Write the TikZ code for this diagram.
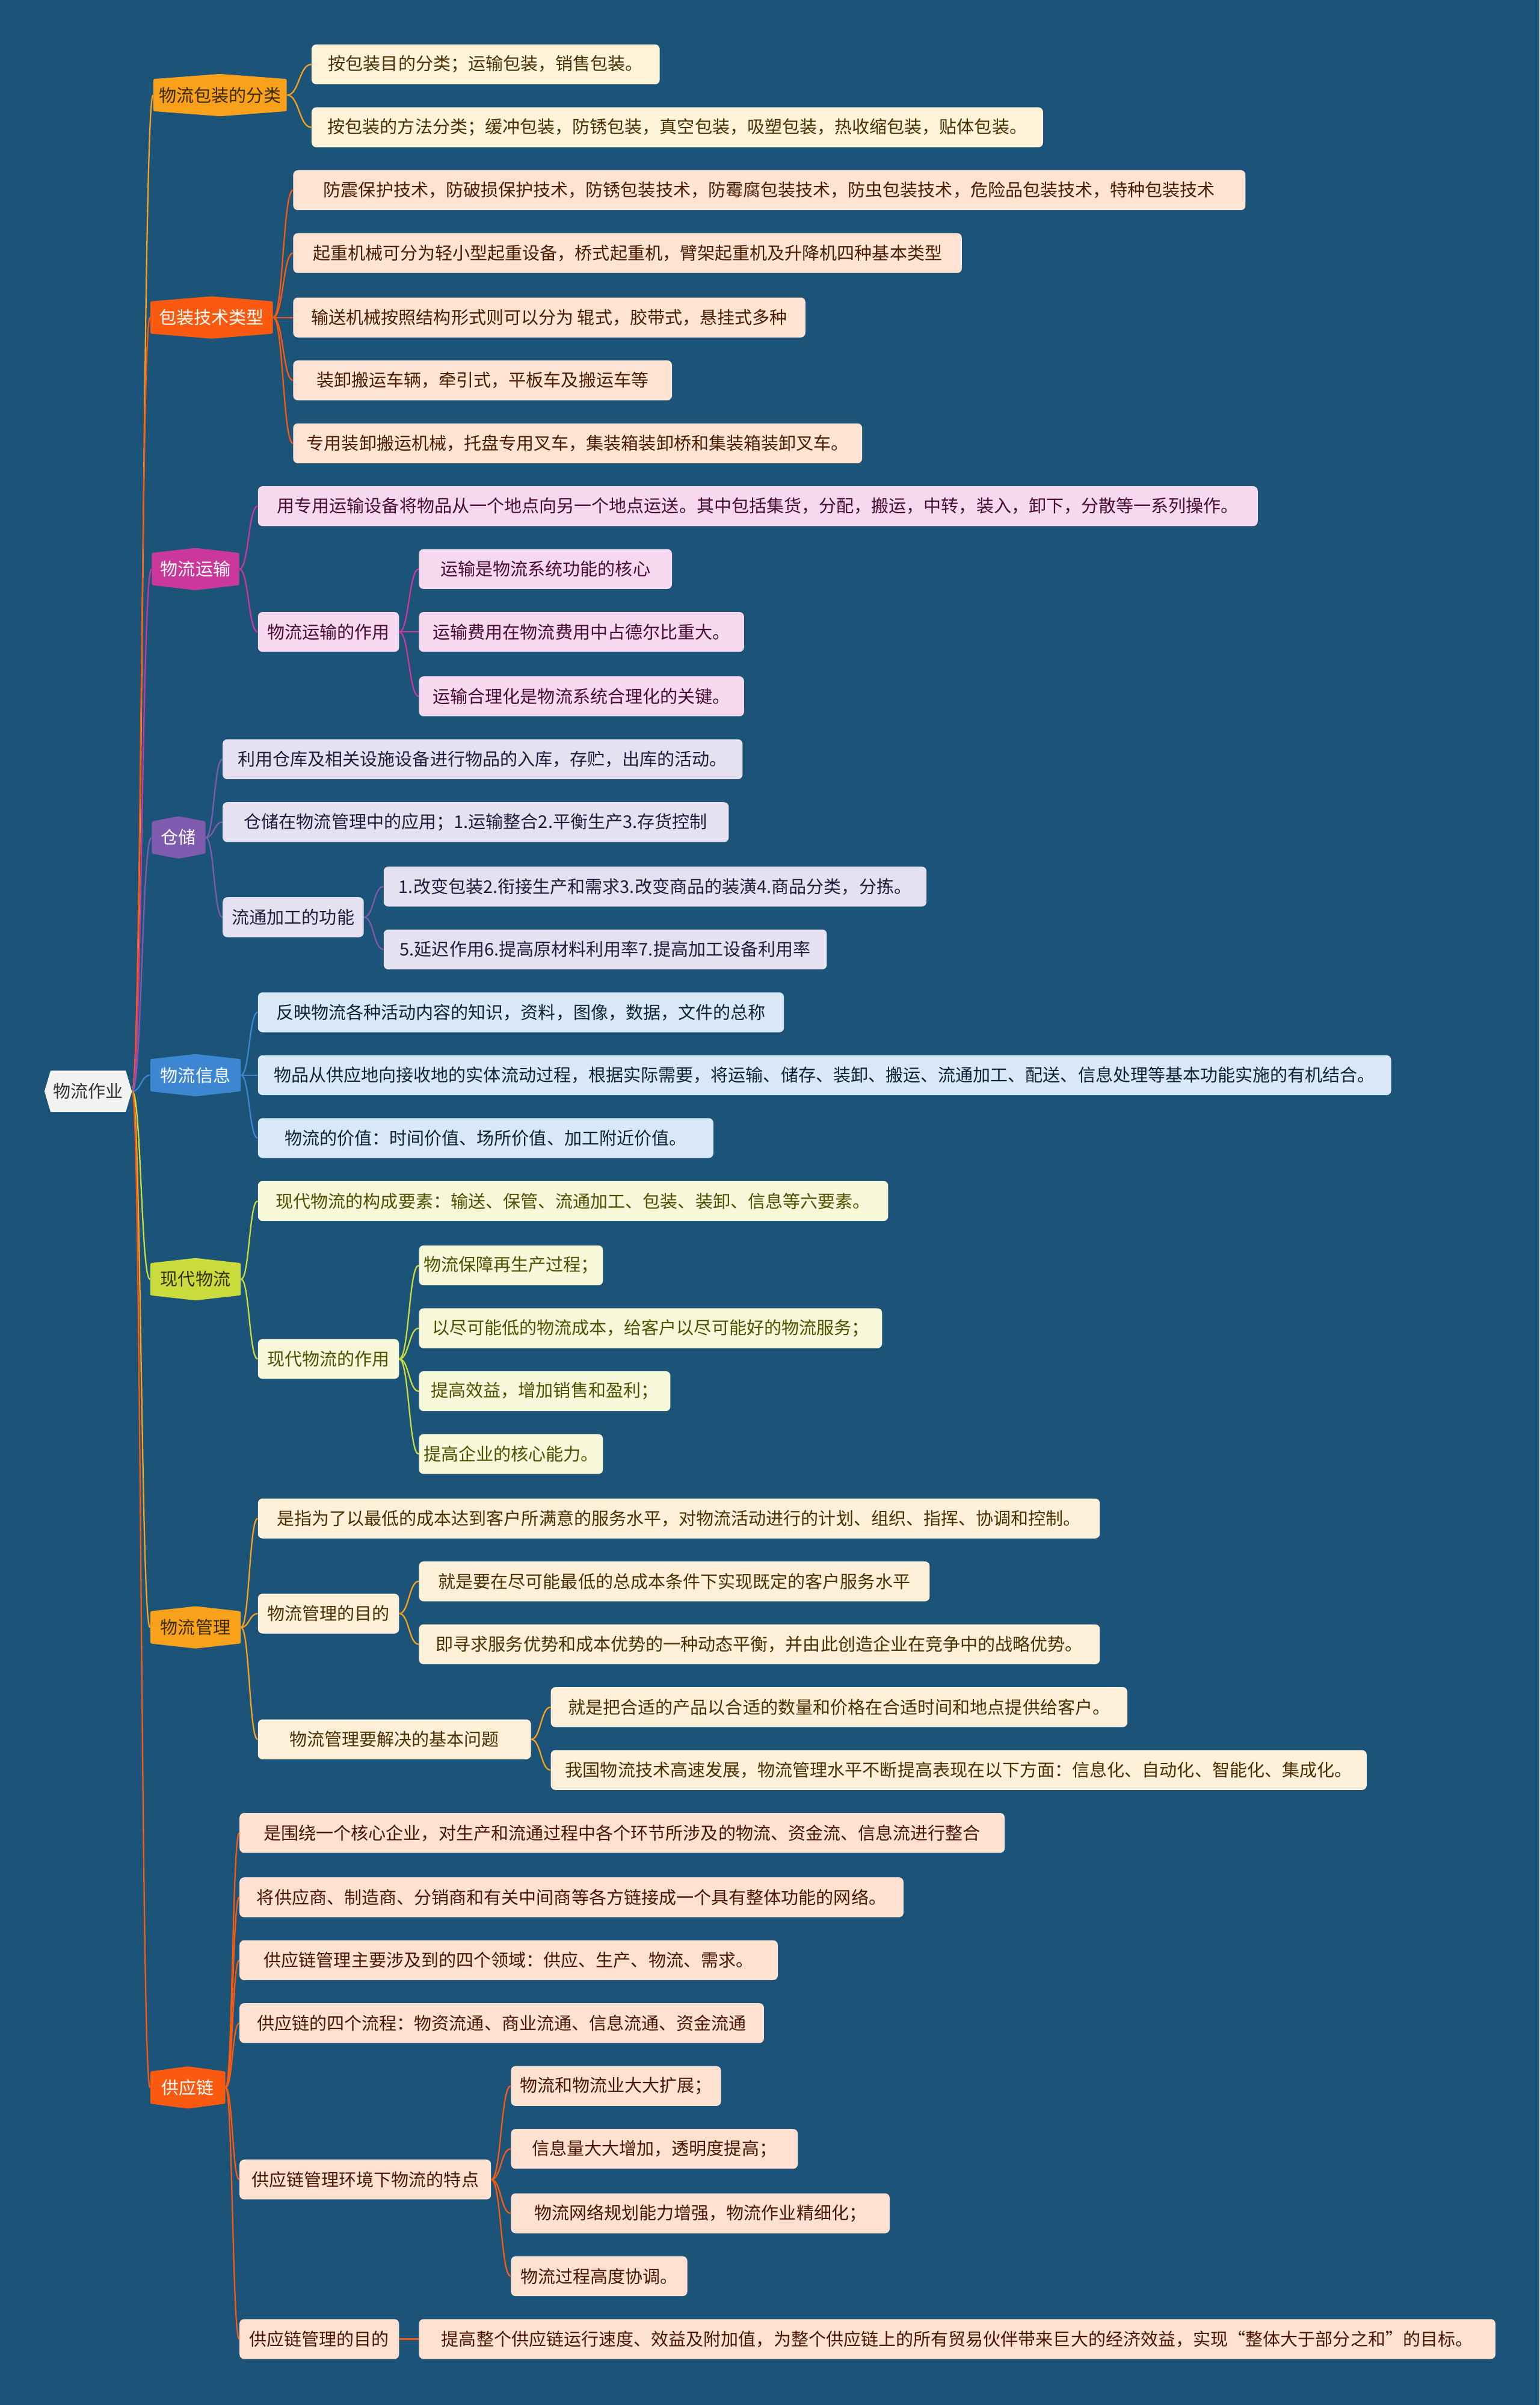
\documentclass[tikz,border=0pt]{standalone}
\usepackage{fontspec}
\newfontfamily\cjk{Noto Sans CJK SC}
\usetikzlibrary{calc}
\definecolor{bgc}{HTML}{1B5478}
\definecolor{rootc}{HTML}{F2F2F2}
\definecolor{cA}{HTML}{F9A11B}
\definecolor{cB}{HTML}{FA5A0F}
\definecolor{cC}{HTML}{C9389A}
\definecolor{cD}{HTML}{7E5BAE}
\definecolor{cE}{HTML}{3D86D1}
\definecolor{cF}{HTML}{CADB3C}
\definecolor{fA}{HTML}{FFF3DA}
\definecolor{fB}{HTML}{FFE3D3}
\definecolor{fC}{HTML}{F6D9EE}
\definecolor{fD}{HTML}{E6E1F1}
\definecolor{fE}{HTML}{D8E8F7}
\definecolor{fF}{HTML}{F7F8D9}
\definecolor{fG}{HTML}{FFF0D9}
\definecolor{fH}{HTML}{FFE1D2}
\definecolor{tA}{HTML}{4A2F00}
\definecolor{tB}{HTML}{4A1C00}
\definecolor{tC}{HTML}{4A0A36}
\definecolor{tD}{HTML}{221A3A}
\definecolor{tE}{HTML}{102238}
\definecolor{tF}{HTML}{4F4F00}
\definecolor{tH}{HTML}{4A1500}
\definecolor{tL}{HTML}{3A2A00}
\tikzset{
  box/.style={anchor=west, rounded corners=3pt, minimum height=26pt, inner xsep=0pt, inner ysep=0pt, font=\cjk\fontsize{11.4}{13}\selectfont},
  lone/.style={minimum height=21pt, inner sep=0pt, font=\cjk\fontsize{11.4}{13}\selectfont},
  ln/.style={line width=0.9pt},
}
% level-one hexagon: name, x-left, width, y-centre, fill, text colour, text
\newcommand\hexone[7]{%
  \fill[#5, rounded corners=1pt] (#2,#4-10.5) -- ({#2+#3/2},#4-13.8) -- ({#2+#3},#4-10.5) -- ({#2+#3},#4+10.5) -- ({#2+#3/2},#4+13.8) -- (#2,#4+10.5) -- cycle;
  \node[lone, text=#6, minimum width=#3pt] (#1) at ({#2+#3/2},#4) {#7};}
% curved connector
\newcommand\lk[3]{%
  \path (#2.east) -- (#3.west) coordinate[pos=0.5] (lkmid);
  \draw[ln, #1] (#2.east) .. controls (lkmid |- #2.east) and (lkmid |- #3.west) .. (#3.west);}
\begin{document}
\begin{tikzpicture}[x=1pt, y=-1pt]
\useasboundingbox (0,0) rectangle (1004,1568);
\fill[bgc] (0,0) rectangle (1004,1568);

% root
\fill[rootc] (29,711.5) -- (33,698) -- (82,698) -- (86,711.5) -- (82,725) -- (33,725) -- cycle;
\node[lone, minimum width=57pt, minimum height=27pt, text=black!80] (root) at (57.5,711.5) {物流作业};

% level one
\hexone{a}{100}{87}{62}{cA}{tL}{物流包装的分类}
\hexone{b}{98}{80}{207}{cB}{white}{包装技术类型}
\hexone{c}{99}{57}{371}{cC}{white}{物流运输}
\hexone{d}{99}{35}{546}{cD}{white}{仓储}
\hexone{e}{98}{59}{701}{cE}{white}{物流信息}
\hexone{f}{98}{59}{834}{cF}{tL}{现代物流}
\hexone{g}{98}{59}{1061}{cA}{tL}{物流管理}
\hexone{h}{98}{49}{1361}{cB}{white}{供应链}

% group A
\node[box, fill=fA, text=tA, minimum width=227pt] (a1) at (203,42) {按包装目的分类；运输包装，销售包装。};
\node[box, fill=fA, text=tA, minimum width=477pt] (a2) at (203,83) {按包装的方法分类；缓冲包装，防锈包装，真空包装，吸塑包装，热收缩包装，贴体包装。};

% group B
\node[box, fill=fB, text=tB, minimum width=621pt] (b1) at (191,124) {防震保护技术，防破损保护技术，防锈包装技术，防霉腐包装技术，防虫包装技术，危险品包装技术，特种包装技术};
\node[box, fill=fB, text=tB, minimum width=436pt] (b2) at (191,165) {起重机械可分为轻小型起重设备，桥式起重机，臂架起重机及升降机四种基本类型};
\node[box, fill=fB, text=tB, minimum width=334pt] (b3) at (191,207) {输送机械按照结构形式则可以分为 辊式，胶带式，悬挂式多种};
\node[box, fill=fB, text=tB, minimum width=247pt] (b4) at (191,248) {装卸搬运车辆，牵引式，平板车及搬运车等};
\node[box, fill=fB, text=tB, minimum width=371pt] (b5) at (191,289) {专用装卸搬运机械，托盘专用叉车，集装箱装卸桥和集装箱装卸叉车。};

% group C
\node[box, fill=fC, text=tC, minimum width=652pt] (c1) at (168,330) {用专用运输设备将物品从一个地点向另一个地点运送。其中包括集货，分配，搬运，中转，装入，卸下，分散等一系列操作。};
\node[box, fill=fC, text=tC, minimum width=92pt] (c2) at (168,412) {物流运输的作用};
\node[box, fill=fC, text=tC, minimum width=165pt] (c21) at (273,371) {运输是物流系统功能的核心};
\node[box, fill=fC, text=tC, minimum width=212pt] (c22) at (273,412) {运输费用在物流费用中占德尔比重大。};
\node[box, fill=fC, text=tC, minimum width=212pt] (c23) at (273,454) {运输合理化是物流系统合理化的关键。};

% group D
\node[box, fill=fD, text=tD, minimum width=339pt] (d1) at (145,495) {利用仓库及相关设施设备进行物品的入库，存贮，出库的活动。};
\node[box, fill=fD, text=tD, minimum width=330pt] (d2) at (145,536) {仓储在物流管理中的应用；1.运输整合2.平衡生产3.存货控制};
\node[box, fill=fD, text=tD, minimum width=92pt] (d3) at (145,598) {流通加工的功能};
\node[box, fill=fD, text=tD, minimum width=354pt] (d31) at (250,578) {1.改变包装2.衔接生产和需求3.改变商品的装潢4.商品分类，分拣。};
\node[box, fill=fD, text=tD, minimum width=289pt] (d32) at (250,619) {5.延迟作用6.提高原材料利用率7.提高加工设备利用率};

% group E
\node[box, fill=fE, text=tE, minimum width=343pt] (e1) at (168,660) {反映物流各种活动内容的知识，资料，图像，数据，文件的总称};
\node[box, fill=fE, text=tE, minimum width=739pt] (e2) at (168,701) {物品从供应地向接收地的实体流动过程，根据实际需要，将运输、储存、装卸、搬运、流通加工、配送、信息处理等基本功能实施的有机结合。};
\node[box, fill=fE, text=tE, minimum width=297pt] (e3) at (168,742) {物流的价值：时间价值、场所价值、加工附近价值。};

% group F
\node[box, fill=fF, text=tF, minimum width=411pt] (f1) at (168,783) {现代物流的构成要素：输送、保管、流通加工、包装、装卸、信息等六要素。};
\node[box, fill=fF, text=tF, minimum width=92pt] (f2) at (168,886) {现代物流的作用};
\node[box, fill=fF, text=tF, minimum width=120pt] (f21) at (273,825) {物流保障再生产过程；};
\node[box, fill=fF, text=tF, minimum width=302pt] (f22) at (273,866) {以尽可能低的物流成本，给客户以尽可能好的物流服务；};
\node[box, fill=fF, text=tF, minimum width=164pt] (f23) at (273,907) {提高效益，增加销售和盈利；};
\node[box, fill=fF, text=tF, minimum width=120pt] (f24) at (273,948) {提高企业的核心能力。};

% group G
\node[box, fill=fG, text=tA, minimum width=549pt] (g1) at (168,990) {是指为了以最低的成本达到客户所满意的服务水平，对物流活动进行的计划、组织、指挥、协调和控制。};
\node[box, fill=fG, text=tA, minimum width=92pt] (g2) at (168,1052) {物流管理的目的};
\node[box, fill=fG, text=tA, minimum width=333pt] (g21) at (273,1031) {就是要在尽可能最低的总成本条件下实现既定的客户服务水平};
\node[box, fill=fG, text=tA, minimum width=444pt] (g22) at (273,1072) {即寻求服务优势和成本优势的一种动态平衡，并由此创造企业在竞争中的战略优势。};
\node[box, fill=fG, text=tA, minimum width=178pt] (g3) at (168,1134) {物流管理要解决的基本问题};
\node[box, fill=fG, text=tA, minimum width=376pt] (g31) at (359,1113) {就是把合适的产品以合适的数量和价格在合适时间和地点提供给客户。};
\node[box, fill=fG, text=tA, minimum width=532pt] (g32) at (359,1154) {我国物流技术高速发展，物流管理水平不断提高表现在以下方面：信息化、自动化、智能化、集成化。};

% group H
\node[box, fill=fH, text=tH, minimum width=499pt] (h1) at (156,1195) {是围绕一个核心企业，对生产和流通过程中各个环节所涉及的物流、资金流、信息流进行整合};
\node[box, fill=fH, text=tH, minimum width=433pt] (h2) at (156,1237) {将供应商、制造商、分销商和有关中间商等各方链接成一个具有整体功能的网络。};
\node[box, fill=fH, text=tH, minimum width=351pt] (h3) at (156,1278) {供应链管理主要涉及到的四个领域：供应、生产、物流、需求。};
\node[box, fill=fH, text=tH, minimum width=342pt] (h4) at (156,1319) {供应链的四个流程：物资流通、商业流通、信息流通、资金流通};
\node[box, fill=fH, text=tH, minimum width=164pt] (h5) at (156,1421) {供应链管理环境下物流的特点};
\node[box, fill=fH, text=tH, minimum width=137pt] (h51) at (333,1360) {物流和物流业大大扩展；};
\node[box, fill=fH, text=tH, minimum width=187pt] (h52) at (333,1401) {信息量大大增加，透明度提高；};
\node[box, fill=fH, text=tH, minimum width=247pt] (h53) at (333,1443) {物流网络规划能力增强，物流作业精细化；};
\node[box, fill=fH, text=tH, minimum width=115pt] (h54) at (333,1484) {物流过程高度协调。};
\node[box, fill=fH, text=tH, minimum width=104pt] (h6) at (156,1525) {供应链管理的目的};
\node[box, fill=fH, text=tH, minimum width=702pt] (h61) at (273,1525) {提高整个供应链运行速度、效益及附加值，为整个供应链上的所有贸易伙伴带来巨大的经济效益，实现“整体大于部分之和”的目标。};

% connectors root
\lk{cA}{root}{a}
\lk{cB}{root}{b}
\lk{cC}{root}{c}
\lk{cD}{root}{d}
\lk{cE}{root}{e}
\lk{cF}{root}{f}
\lk{cA}{root}{g}
\lk{cB}{root}{h}
% A
\lk{cA}{a}{a1}
\lk{cA}{a}{a2}
% B
\lk{cB}{b}{b1}
\lk{cB}{b}{b2}
\lk{cB}{b}{b3}
\lk{cB}{b}{b4}
\lk{cB}{b}{b5}
% C
\lk{cC}{c}{c1}
\lk{cC}{c}{c2}
\lk{cC}{c2}{c21}
\lk{cC}{c2}{c22}
\lk{cC}{c2}{c23}
% D
\lk{cD}{d}{d1}
\lk{cD}{d}{d2}
\lk{cD}{d}{d3}
\lk{cD}{d3}{d31}
\lk{cD}{d3}{d32}
% E
\lk{cE}{e}{e1}
\lk{cE}{e}{e2}
\lk{cE}{e}{e3}
% F
\lk{cF}{f}{f1}
\lk{cF}{f}{f2}
\lk{cF}{f2}{f21}
\lk{cF}{f2}{f22}
\lk{cF}{f2}{f23}
\lk{cF}{f2}{f24}
% G
\lk{cA}{g}{g1}
\lk{cA}{g}{g2}
\lk{cA}{g}{g3}
\lk{cA}{g2}{g21}
\lk{cA}{g2}{g22}
\lk{cA}{g3}{g31}
\lk{cA}{g3}{g32}
% H
\lk{cB}{h}{h1}
\lk{cB}{h}{h2}
\lk{cB}{h}{h3}
\lk{cB}{h}{h4}
\lk{cB}{h}{h5}
\lk{cB}{h}{h6}
\lk{cB}{h5}{h51}
\lk{cB}{h5}{h52}
\lk{cB}{h5}{h53}
\lk{cB}{h5}{h54}
\lk{cB}{h6}{h61}
\end{tikzpicture}
\end{document}
